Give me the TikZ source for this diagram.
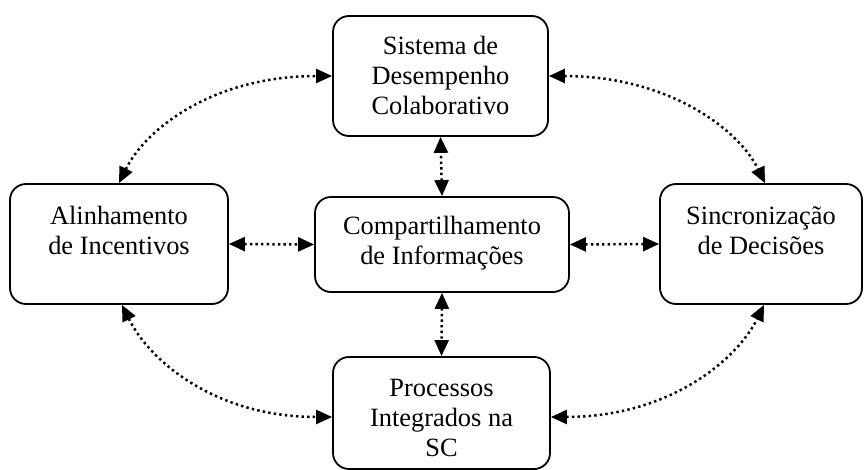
\documentclass[tikz,border=0pt]{standalone}
\usepackage{fontspec}
\setmainfont{Liberation Serif}
\usetikzlibrary{arrows.meta}
\begin{document}
\begin{tikzpicture}[x=1pt,y=-1pt,
  font=\fontsize{26.4}{30}\selectfont,
  box/.style={draw, line width=1.8pt, rounded corners=16pt, inner sep=0pt},
  txt/.style={anchor=north, align=center, inner sep=0pt},
  conn/.style={line width=2.5pt, dash pattern=on 2.4pt off 3.2pt,
    {Triangle[length=16pt,width=14pt]}-{Triangle[length=16pt,width=14pt]}}]
\useasboundingbox (0,0) rectangle (864,470);
% boxes
\node[box, minimum width=215pt, minimum height=120pt] (top) at (440.5,76) {};
\node[box, minimum width=218pt, minimum height=120pt] (lft) at (119,244) {};
\node[box, minimum width=254pt, minimum height=95pt] (ctr) at (442,244.5) {};
\node[box, minimum width=202pt, minimum height=120pt] (rgt) at (761,244) {};
\node[box, minimum width=217pt, minimum height=112pt] (bot) at (441.5,413) {};
% texts
\node[txt] (ttop) at ([yshift=-18pt]top.north) {\strut Sistema de\\Desempenho\\Colaborativo};
\node[txt] (tlft) at ([yshift=-20pt]lft.north) {\strut Alinhamento\\de Incentivos};
\node[txt] (tctr) at ([yshift=-17pt]ctr.north) {\strut Compartilhamento\\de Informações};
\node[txt] (trgt) at ([yshift=-20pt]rgt.north) {\strut Sincronização\\de Decisões};
\node[txt] (tbot) at ([yshift=-19pt]bot.north) {\strut Processos\\Integrados na\\SC};
% anchor points
\coordinate (rgtN) at ([xshift=4pt]rgt.north);
\coordinate (rgtS) at ([xshift=3pt]rgt.south);
\coordinate (lftS) at ([xshift=3pt]lft.south);
\coordinate (botW) at ([yshift=-4pt]bot.west);
\coordinate (botE) at ([yshift=-4pt]bot.east);
% connectors
\draw[conn] (lft.north) .. controls +(27,-55) and +(-118,0) .. (top.west);
\draw[conn] (top.east) .. controls +(118,0) and +(-27,-55) .. (rgtN);
\draw[conn] (lftS) .. controls +(27,55) and +(-118,0) .. (botW);
\draw[conn] (botE) .. controls +(118,0) and +(-27,55) .. (rgtS);
\draw[conn] (lft.east) -- (ctr.west);
\draw[conn] (ctr.east) -- (rgt.west);
\draw[conn] (ctr.north) -- (top.south);
\draw[conn] (ctr.south) -- (bot.north);
\end{tikzpicture}
\end{document}
